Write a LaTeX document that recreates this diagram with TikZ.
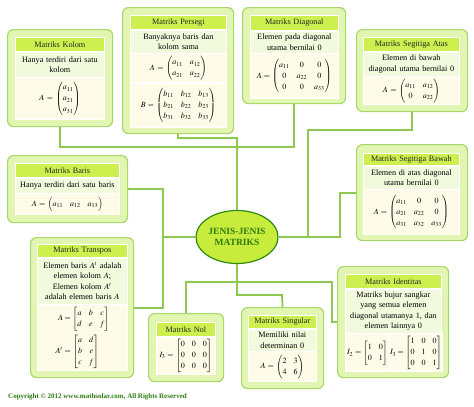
\documentclass[tikz,border=0pt]{standalone}
\usepackage{amsmath}
\usepackage{mathptmx}
\usepackage[no-math]{fontspec}
\setmainfont{Liberation Serif}
\usetikzlibrary{positioning,shapes.geometric}
\definecolor{outc}{HTML}{E2F5B2}
\definecolor{edgec}{HTML}{A8D86A}
\definecolor{headc}{HTML}{CDF04E}
\definecolor{descc}{HTML}{F1FADD}
\definecolor{matc}{HTML}{FEFCE8}
\definecolor{linec}{HTML}{8DC850}
\definecolor{hubc}{HTML}{C8EC3C}
\definecolor{deepc}{HTML}{2F8A12}
\definecolor{textc}{HTML}{2C7A10}
\setlength{\arraycolsep}{3.5pt}
\tikzset{
  outbox/.style={draw=edgec,fill=outc,line width=1.2pt,rounded corners=6pt,anchor=north west,inner sep=0pt},
  cellbox/.style={draw=white,line width=0.7pt,inner sep=0pt,align=center},
  hd/.style={cellbox,fill=headc,text=black!85,font=\fontsize{8.2}{9}\selectfont},
  ds/.style={cellbox,fill=descc,font=\fontsize{8.2}{10.5}\selectfont},
  mx/.style={cellbox,fill=matc,font=\fontsize{8}{11}\selectfont},
  ln/.style={linec,line width=1.8pt},
  hub/.style={ellipse,draw=deepc,line width=1.2pt,fill=hubc,minimum width=82pt,minimum height=53pt,inner sep=0pt,align=center,font=\fontsize{9.5}{11.5}\selectfont\bfseries,text=textc}
}
\begin{document}
\begin{tikzpicture}[x=1pt,y=-1pt]
\useasboundingbox (0,0) rectangle (474,407);
% kolom
\node[outbox,minimum width=105pt,minimum height=97pt] (kolom) at (7,29) {};
\node[hd,text width=89pt,minimum height=14pt,anchor=north west] (kolomH) at (15,37) {Matriks Kolom};
\node[ds,text width=89pt,minimum height=25pt,below=0pt of kolomH] (kolomD) {Hanya terdiri dari satu\\kolom};
\node[mx,text width=89pt,minimum height=42pt,below=0pt of kolomD] (kolomM) {$A=\begin{pmatrix}a_{11}\\a_{21}\\a_{31}\end{pmatrix}$};
% persegi
\node[outbox,minimum width=111pt,minimum height=126pt] (persegi) at (122,7) {};
\node[hd,text width=96pt,minimum height=14pt,anchor=north west] (persegiH) at (130,15) {Matriks Persegi};
\node[ds,text width=96pt,minimum height=23pt,below=0pt of persegiH] (persegiD) {Banyaknya baris dan\\kolom sama};
\node[mx,text width=96pt,minimum height=29pt,below=0pt of persegiD] (persegiA) {$A=\begin{pmatrix}a_{11}&a_{12}\\a_{21}&a_{22}\end{pmatrix}$};
\node[mx,text width=96pt,minimum height=44pt,below=0pt of persegiA] (persegiB) {$B=\begin{pmatrix}b_{11}&b_{12}&b_{13}\\b_{21}&b_{22}&b_{23}\\b_{31}&b_{32}&b_{33}\end{pmatrix}$};
% diagonal
\node[outbox,minimum width=103pt,minimum height=96pt] (diagonal) at (242,7) {};
\node[hd,text width=88pt,minimum height=15pt,anchor=north west] (diagonalH) at (250,15) {Matriks Diagonal};
\node[ds,text width=88pt,minimum height=22pt,below=0pt of diagonalH] (diagonalD) {Elemen pada diagonal\\utama bernilai 0};
\node[mx,text width=88pt,minimum height=45pt,below=0pt of diagonalD] (diagonalM) {$A=\begin{pmatrix}a_{11}&0&0\\0&a_{22}&0\\0&0&a_{33}\end{pmatrix}$};
% segitiga atas
\node[outbox,minimum width=111pt,minimum height=82pt] (atas) at (356,29) {};
\node[hd,text width=96pt,minimum height=14pt,anchor=north west] (atasH) at (363,37) {Matriks Segitiga Atas};
\node[ds,text width=96pt,minimum height=24pt,below=0pt of atasH] (atasD) {Elemen di bawah\\diagonal utama bernilai 0};
\node[mx,text width=96pt,minimum height=28pt,below=0pt of atasD] (atasM) {$A=\begin{pmatrix}a_{11}&a_{12}\\0&a_{22}\end{pmatrix}$};
% baris
\node[outbox,minimum width=120pt,minimum height=67pt] (baris) at (7,155) {};
\node[hd,text width=104pt,minimum height=14pt,anchor=north west] (barisH) at (15,163) {Matriks Baris};
\node[ds,text width=104pt,minimum height=15pt,below=0pt of barisH] (barisD) {Hanya terdiri dari satu baris};
\node[mx,text width=104pt,minimum height=21pt,below=0pt of barisD] (barisM) {$A=\begin{pmatrix}a_{11}&a_{12}&a_{13}\end{pmatrix}$};
% segitiga bawah
\node[outbox,minimum width=111pt,minimum height=96pt] (bawah) at (356,144) {};
\node[hd,text width=96pt,minimum height=12pt,anchor=north west] (bawahH) at (363,153) {Matriks Segitiga Bawah};
\node[ds,text width=96pt,minimum height=23pt,below=0pt of bawahH] (bawahD) {Elemen di atas diagonal\\utama bernilai 0};
\node[mx,text width=96pt,minimum height=45pt,below=0pt of bawahD] (bawahM) {$A=\begin{pmatrix}a_{11}&0&0\\a_{21}&a_{22}&0\\a_{31}&a_{32}&a_{33}\end{pmatrix}$};
% transpos
\node[outbox,minimum width=103pt,minimum height=140pt] (transpos) at (30,237) {};
\node[hd,text width=90pt,minimum height=13pt,anchor=north west] (transposH) at (37,244) {Matriks Transpos};
\node[ds,text width=90pt,minimum height=46pt,below=0pt of transposH] (transposD) {Elemen baris $A^t$ adalah\\elemen kolom $A$;\\Elemen kolom $A^t$\\adalah elemen baris $A$};
\node[mx,text width=90pt,minimum height=66pt,below=0pt of transposD] (transposM) {$\begin{aligned}A&=\begin{bmatrix}a&b&c\\d&e&f\end{bmatrix}\\A^t&=\begin{bmatrix}a&d\\b&e\\c&f\end{bmatrix}\end{aligned}$};
% nol
\node[outbox,minimum width=75pt,minimum height=68pt] (nol) at (148,313) {};
\node[hd,text width=59pt,minimum height=14pt,anchor=north west] (nolH) at (156,322) {Matriks Nol};
\node[mx,text width=59pt,minimum height=37pt,below=0pt of nolH] (nolM) {$I_3=\begin{bmatrix}0&0&0\\0&0&0\\0&0&0\end{bmatrix}$};
% singular
\node[outbox,minimum width=82pt,minimum height=81pt] (singular) at (241,307) {};
\node[hd,text width=68pt,minimum height=13pt,anchor=north west] (singularH) at (248,315) {Matriks Singular};
\node[ds,text width=68pt,minimum height=22pt,below=0pt of singularH] (singularD) {Memiliki nilai\\determinan 0};
\node[mx,text width=68pt,minimum height=30pt,below=0pt of singularD] (singularM) {$A=\begin{pmatrix}2&3\\4&6\end{pmatrix}$};
% identitas
\node[outbox,minimum width=111pt,minimum height=111pt] (identitas) at (337,266) {};
\node[hd,text width=96pt,minimum height=14pt,anchor=north west] (identitasH) at (345,274) {Matriks Identitas};
\node[ds,text width=96pt,minimum height=44pt,below=0pt of identitasH] (identitasD) {Matriks bujur sangkar\\yang semua elemen\\diagonal utamanya 1, dan\\elemen lainnya 0};
\node[mx,text width=44pt,minimum height=38pt,below=0pt of identitasD.south west,anchor=north west] (identitasL) {$I_2=\begin{bmatrix}1&0\\0&1\end{bmatrix}$};
\node[mx,text width=52pt,minimum height=38pt,right=0pt of identitasL] (identitasR) {$I_3=\begin{bmatrix}1&0&0\\0&1&0\\0&0&1\end{bmatrix}$};
% pusat
\node[hub] (main) at (237,237) {JENIS-JENIS\\MATRIKS};
% garis
\coordinate (jA) at (237,147);
\coordinate (jB) at (237,138);
\coordinate (jC) at (308,130);
\coordinate (jD) at (340,237);
\coordinate (jE) at (163,237);
\coordinate (jF) at (332,282);
\coordinate (jG) at (282,295);
\draw[ln] (kolom.south) |- (jA) -| (diagonal.south);
\draw[ln] (persegi.south) |- (jB) -- (main.north);
\draw[ln] (atas.south) |- (jC) |- (main.east);
\draw[ln] (bawah.west) -| (jD) -- (main.east);
\draw[ln] (baris.east) -| (jE) -- (main.west);
\draw[ln] (transpos.east) -| (jE);
\draw[ln] (nol.north) |- (jF) |- (identitas.west);
\draw[ln] (main.south) |- (jG) -- (singular.north);
\node[anchor=west,inner sep=0pt,font=\fontsize{7}{8}\selectfont\bfseries,text=textc] (copy) at (8,397) {Copyright © 2012 www.mathsolar.com, All Rights Reserved};
\end{tikzpicture}
\end{document}
